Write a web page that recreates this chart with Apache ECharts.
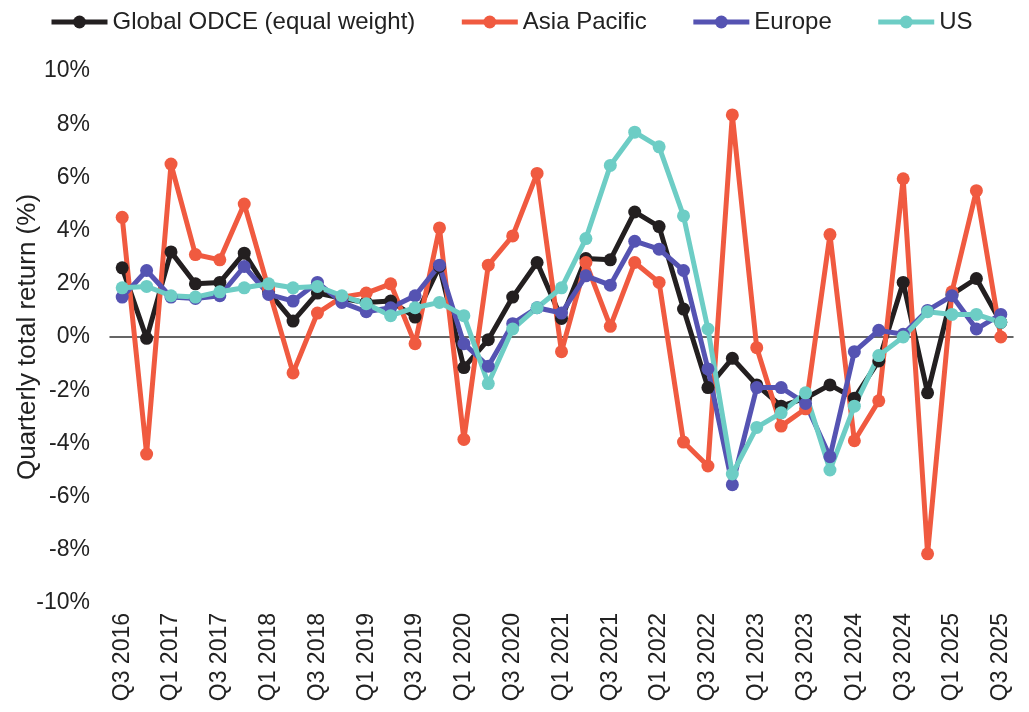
<!DOCTYPE html>
<html>
<head>
<meta charset="utf-8">
<script src="https://cdn.jsdelivr.net/npm/echarts@6/dist/echarts.min.js"></script>
<style>
html,body{margin:0;padding:0;background:#fff;}
#chart{width:1029px;height:712px;}
</style>
</head>
<body>
<div id="chart"></div>
<script>
const categories = [
  "Q3 2016","Q4 2016","Q1 2017","Q2 2017","Q3 2017","Q4 2017",
  "Q1 2018","Q2 2018","Q3 2018","Q4 2018","Q1 2019","Q2 2019",
  "Q3 2019","Q4 2019","Q1 2020","Q2 2020","Q3 2020","Q4 2020",
  "Q1 2021","Q2 2021","Q3 2021","Q4 2021","Q1 2022","Q2 2022",
  "Q3 2022","Q4 2022","Q1 2023","Q2 2023","Q3 2023","Q4 2023",
  "Q1 2024","Q2 2024","Q3 2024","Q4 2024","Q1 2025","Q2 2025","Q3 2025"
];
const globalOdce = [2.6, -0.05, 3.2, 2.0, 2.05, 3.15, 1.7, 0.6, 1.65, 1.45, 1.3, 1.35, 0.75, 2.65, -1.15, -0.1, 1.5, 2.8, 0.7, 2.95, 2.9, 4.7, 4.15, 1.05, -1.9, -0.8, -1.8, -2.6, -2.3, -1.8, -2.3, -0.9, 2.05, -2.1, 1.6, 2.2, 0.55];
const asiaPacific = [4.5, -4.4, 6.5, 3.1, 2.9, 5.0, 1.8, -1.35, 0.9, 1.5, 1.65, 2.0, -0.25, 4.1, -3.85, 2.7, 3.8, 6.15, -0.55, 2.8, 0.4, 2.8, 2.05, -3.95, -4.85, 8.35, -0.4, -3.35, -2.7, 3.85, -3.9, -2.4, 5.95, -8.15, 1.7, 5.5, 0.0];
const europe = [1.5, 2.5, 1.5, 1.45, 1.55, 2.65, 1.6, 1.35, 2.05, 1.3, 0.95, 1.1, 1.55, 2.7, -0.25, -1.1, 0.5, 1.1, 0.9, 2.3, 1.95, 3.6, 3.3, 2.5, -1.2, -5.55, -1.9, -1.9, -2.5, -4.5, -0.55, 0.25, 0.1, 1.0, 1.55, 0.3, 0.85];
const us = [1.85, 1.9, 1.55, 1.5, 1.7, 1.85, 2.0, 1.85, 1.9, 1.55, 1.25, 0.8, 1.1, 1.3, 0.8, -1.75, 0.3, 1.1, 1.85, 3.7, 6.45, 7.7, 7.15, 4.55, 0.3, -5.15, -3.4, -2.85, -2.1, -5.0, -2.6, -0.7, 0.0, 0.95, 0.85, 0.85, 0.55];

const seriesNames = ["Global ODCE (equal weight)", "Asia Pacific", "Europe", "US"];
const seriesData = [globalOdce, asiaPacific, europe, us];
const colors = ["#231f20", "#f05a40", "#5553b2", "#6dcdc5"];

const FONT = "Liberation Sans, Arial, sans-serif";
const chart = echarts.init(document.getElementById("chart"), null, {renderer: "canvas"});
chart.setOption({
  animation: false,
  color: colors,
  textStyle: {fontFamily: FONT},
  legend: {
    top: 5,
    left: 44,
    itemGap: 44,
    itemWidth: 56,
    itemHeight: 16,
    lineStyle: {width: 5},
    textStyle: {fontSize: 24, color: "#222", fontFamily: FONT},
    data: seriesNames
  },
  grid: {left: 110, right: 16, top: 71, bottom: 109, containLabel: false, outerBoundsMode: "none"},
  xAxis: {
    type: "category",
    data: categories,
    boundaryGap: true,
    axisLine: {onZero: true, lineStyle: {color: "#333", width: 1.5}},
    axisTick: {show: false},
    axisLabel: {interval: 1, rotate: 90, fontSize: 23, color: "#222", margin: 10, fontFamily: FONT},
    splitLine: {show: false}
  },
  yAxis: {
    type: "value",
    min: -10, max: 10, interval: 2,
    name: "Quarterly total return (%)",
    nameLocation: "middle",
    nameGap: 69,
    nameMoveOverlap: false,
    nameTextStyle: {fontSize: 26, color: "#222", fontFamily: FONT},
    axisLine: {show: false},
    axisTick: {show: false},
    splitLine: {show: false},
    axisLabel: {formatter: "{value}%", fontSize: 23, color: "#222", margin: 20, fontFamily: FONT}
  },
  series: seriesNames.map((n, i) => ({
    name: n,
    type: "line",
    data: seriesData[i],
    symbol: "circle",
    symbolSize: 13,
    lineStyle: {width: 5, color: colors[i]},
    itemStyle: {color: colors[i]},
    emphasis: {disabled: true}
  }))
});
</script>
</body>
</html>
